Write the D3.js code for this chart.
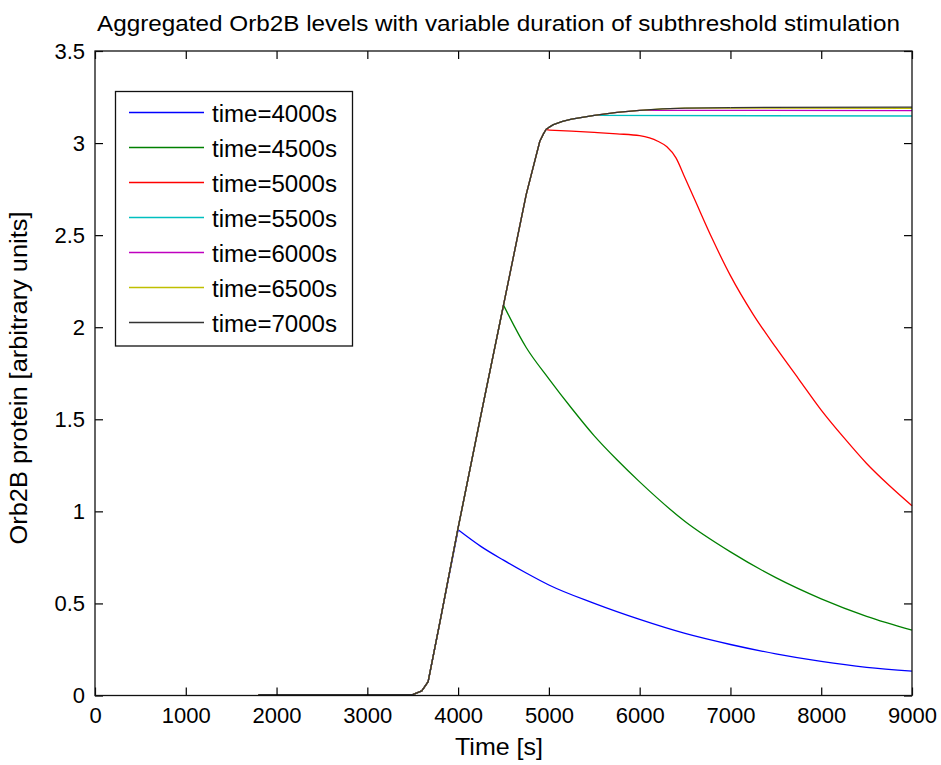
<!DOCTYPE html>
<html><head><meta charset="utf-8">
<script src="https://cdn.jsdelivr.net/npm/d3@7"></script>
<style>html,body{margin:0;padding:0;background:#fff;} text{font-family:"Liberation Sans",Arial,sans-serif;fill:#000;}</style>
</head><body>
<svg id="chart" width="941" height="765"></svg>
<script>
// ---- data ----
const xTicks = [0,1000,2000,3000,4000,5000,6000,7000,8000,9000];
const yTicks = [0,0.5,1,1.5,2,2.5,3,3.5];
const seriesNames = ["time=4000s","time=4500s","time=5000s","time=5500s","time=6000s","time=6500s","time=7000s"];
const splitTimes = [4000,4500,5000,5500,6000,6500,7000];
// shared rising phase (stimulation on)
const riseTime  = [1800,3500,3600,3670,3800,4000,4250,4500,4750,4900,4940,4970,5000,5050,5150,5250,5400,5500,5750,6000,6250,6500];
const riseValue = [0.005,0.005,0.025,0.075,0.40,0.91,1.52,2.12,2.72,3.01,3.05,3.075,3.085,3.10,3.118,3.13,3.142,3.15,3.167,3.178,3.186,3.19];
// after stimulation stops
const tail4000T = [4000,4250,4500,4750,5000,5500,6000,6500,7000,7500,8000,8500,9000];
const tail4000V = [0.90,0.81,0.735,0.665,0.60,0.50,0.413,0.337,0.277,0.226,0.185,0.153,0.132];
const tail4500T = [4500,4750,5000,5250,5500,5750,6000,6500,7000,7500,8000,8500,9000];
const tail4500V = [2.12,1.89,1.72,1.56,1.41,1.28,1.16,0.945,0.78,0.64,0.525,0.43,0.355];
const tail5000T = [5000,5250,5500,5750,6000,6200,6300,6400,6500,6600,6800,7000,7250,7500,7750,8000,8250,8500,8750,9000];
const tail5000V = [3.07,3.065,3.058,3.05,3.04,3.01,2.98,2.92,2.81,2.70,2.48,2.28,2.07,1.89,1.72,1.55,1.40,1.26,1.14,1.03];
const tail5500T = [5500,9000];
const tail5500V = [3.15,3.147];
const tail6000T = [6000,9000];
const tail6000V = [3.178,3.176];
const tail6500T = [6500,9000];
const tail6500V = [3.19,3.189];
const tail7000T = [7000,9000];
const tail7000V = [3.193,3.195];
const colors = ["#0000ff","#008000","#ff0000","#00bfbf","#bf00bf","#bfbf00","#333333"];

// ---- build ----
const tails = [[tail4000T,tail4000V],[tail4500T,tail4500V],[tail5000T,tail5000V],[tail5500T,tail5500V],[tail6000T,tail6000V],[tail6500T,tail6500V],[tail7000T,tail7000V]];
const series = seriesNames.map((name,i)=>{
  const rise = [];
  riseTime.forEach((t,j)=>{ if (t < splitTimes[i]) rise.push([t, riseValue[j]]); });
  const tail = tails[i][0].map((t,j)=>[t, tails[i][1][j]]);
  rise.push(tail[0]);
  return {name, color: colors[i], rise, tail};
});

const L=95, R=912, T=51, B=695.5;
const svg = d3.select("#chart");
const x = d3.scaleLinear().domain([0,9000]).range([L,R]);
const y = d3.scaleLinear().domain([0,3.5]).range([B,T]);

const tk = 8;
// plot lines
const lineLin = d3.line().x(d=>x(d[0])).y(d=>y(d[1]));
const lineSmooth = d3.line().x(d=>x(d[0])).y(d=>y(d[1])).curve(d3.curveMonotoneX);
const g = svg.append("g");
series.forEach(s=>{
  g.append("path").attr("d", lineLin(s.rise)).attr("fill","none").attr("stroke",s.color).attr("stroke-width",1.3).attr("stroke-linejoin","round");
  g.append("path").attr("d", lineSmooth(s.tail)).attr("fill","none").attr("stroke",s.color).attr("stroke-width",1.3);
});

// axes
const fs = 22;
const xa = svg.append("g").attr("transform",`translate(0,${B})`)
  .call(d3.axisBottom(x).tickValues(xTicks).tickFormat(d3.format("d")).tickSize(-tk).tickPadding(12));
const xt = svg.append("g").attr("transform",`translate(0,${T})`)
  .call(d3.axisTop(x).tickValues(xTicks).tickFormat("").tickSize(-tk));
const ya = svg.append("g").attr("transform",`translate(${L},0)`)
  .call(d3.axisLeft(y).tickValues(yTicks).tickFormat(d=>String(d)).tickSize(-tk).tickPadding(10));
const yr = svg.append("g").attr("transform",`translate(${R},0)`)
  .call(d3.axisRight(y).tickValues(yTicks).tickFormat("").tickSize(-tk));
[xa,xt,ya,yr].forEach(a=>{
  a.select(".domain").remove();
  a.selectAll("line").attr("stroke","#000").attr("stroke-width",1.2);
  a.selectAll("text").attr("font-size",fs).attr("font-family","Liberation Sans, Arial, sans-serif").attr("fill","#000");
});
svg.append("rect").attr("x",L).attr("y",T).attr("width",R-L).attr("height",B-T)
  .attr("fill","none").attr("stroke","#111").attr("stroke-width",1.3);

// title & labels
svg.append("text").attr("x",(L+R)/2 - 5).attr("y",31).attr("text-anchor","middle").attr("font-size",22)
  .attr("textLength",803).attr("lengthAdjust","spacingAndGlyphs")
  .text("Aggregated Orb2B levels with variable duration of subthreshold stimulation");
svg.append("text").attr("x",499).attr("y",755).attr("text-anchor","middle").attr("font-size",24)
  .attr("textLength",88).attr("lengthAdjust","spacingAndGlyphs").text("Time [s]");
svg.append("text").attr("transform",`translate(27,378) rotate(-90)`).attr("text-anchor","middle").attr("font-size",23)
  .attr("textLength",333).attr("lengthAdjust","spacingAndGlyphs")
  .text("Orb2B protein [arbitrary units]");

// legend
const lg = svg.append("g");
lg.append("rect").attr("x",115.5).attr("y",91.5).attr("width",237).attr("height",254.5)
  .attr("fill","#fff").attr("stroke","#111").attr("stroke-width",1.3);
series.forEach((s,i)=>{
  const cy = 112.5 + i*35;
  lg.append("line").attr("x1",129).attr("x2",204).attr("y1",cy).attr("y2",cy).attr("stroke",s.color).attr("stroke-width",1.3);
  lg.append("text").attr("x",212).attr("y",cy+9).attr("font-size",23)
    .attr("textLength",125).attr("lengthAdjust","spacingAndGlyphs").text(s.name);
});
</script>
</body></html>
